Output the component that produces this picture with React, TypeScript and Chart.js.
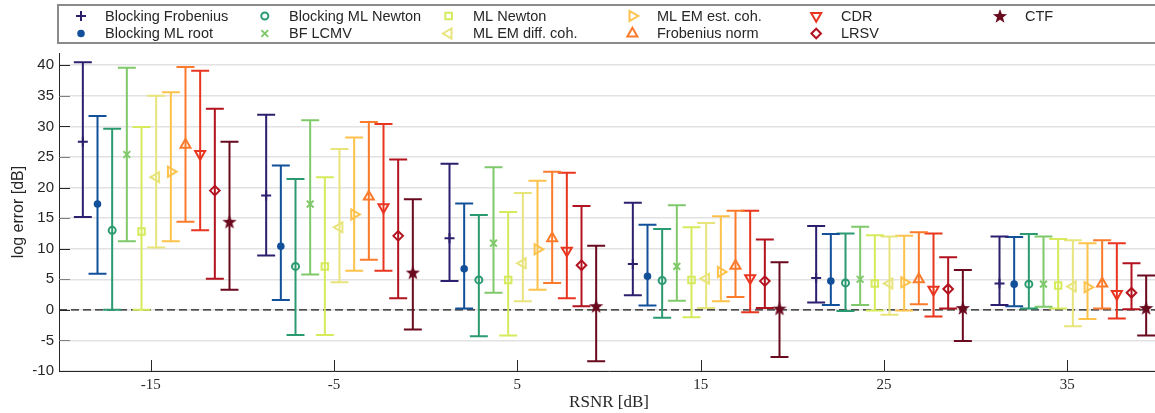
import React, { useEffect, useRef } from 'react';
import { Chart, registerables } from 'chart.js';
import { drawPoint } from 'chart.js/helpers';

Chart.register(...registerables);

// ---------------- data ----------------
const RSNR_GROUPS = [-15, -5, 5, 15, 25, 35];
const X_TICK_VALUES = [-15, -5, 5, 15, 25, 35];
const Y_TICK_VALUES = [-10, -5, 0, 5, 10, 15, 20, 25, 30, 35, 40];

const METHOD_NAMES = [
  'Blocking Frobenius',
  'Blocking ML root',
  'Blocking ML Newton',
  'BF LCMV',
  'ML Newton',
  'ML EM diff. coh.',
  'ML EM est. coh.',
  'Frobenius norm',
  'CDR',
  'LRSV',
  'CTF',
];

const METHOD_COLORS = [
  '#2d1f6e',
  '#13509a',
  '#2b9a70',
  '#80c96b',
  '#d6ea5c',
  '#e8e47c',
  '#fdc24c',
  '#fb7b2c',
  '#e9351f',
  '#b3121f',
  '#6a0a1f',
];

// mean log error [dB], one row per method, one column per RSNR group
const MEAN_VALUES = [
  [27.5, 18.7, 11.7, 7.5, 5.2, 4.3],
  [17.3, 10.4, 6.7, 5.5, 4.7, 4.2],
  [13.0, 7.1, 4.9, 4.8, 4.4, 4.2],
  [25.4, 17.3, 10.9, 7.1, 5.0, 4.2],
  [12.8, 7.1, 4.9, 4.9, 4.3, 4.0],
  [21.7, 13.5, 7.6, 5.1, 4.3, 3.8],
  [22.6, 15.6, 9.9, 6.2, 4.5, 3.7],
  [27.0, 18.5, 11.7, 7.2, 5.0, 4.3],
  [25.5, 16.8, 9.7, 5.2, 3.3, 2.6],
  [19.5, 12.1, 7.3, 4.7, 3.4, 2.8],
  [14.4, 6.1, 0.6, 0.2, 0.3, 0.3],
];

const LOWER_VALUES = [
  [15.2, 8.9, 4.7, 2.4, 1.2, 0.8],
  [5.9, 1.6, 0.2, 0.7, 0.8, 0.6],
  [0.0, -4.1, -4.3, -1.3, -0.2, 0.2],
  [11.2, 5.8, 2.8, 1.5, 0.8, 0.5],
  [0.0, -4.1, -4.2, -1.2, -0.1, 0.2],
  [10.2, 4.5, 1.4, 0.3, -0.8, -2.7],
  [11.2, 6.4, 3.3, 1.4, -0.1, -1.5],
  [14.4, 8.2, 4.4, 2.1, 0.9, 0.2],
  [13.0, 6.4, 1.9, -0.4, -1.1, -1.4],
  [5.1, 1.9, 0.6, 0.3, 0.2, 0.1],
  [3.3, -3.2, -8.4, -7.7, -5.1, -4.2],
];

const UPPER_VALUES = [
  [40.5, 31.9, 23.9, 17.5, 13.7, 12.0],
  [31.7, 23.6, 17.4, 13.9, 12.4, 11.9],
  [29.6, 21.4, 15.5, 13.2, 12.5, 12.4],
  [39.6, 31.0, 23.3, 17.1, 13.6, 12.0],
  [29.9, 21.7, 16.0, 13.5, 12.2, 11.6],
  [35.0, 26.3, 19.1, 14.2, 12.0, 11.4],
  [35.6, 28.2, 21.1, 15.3, 12.1, 10.9],
  [39.7, 30.7, 22.6, 16.2, 12.7, 11.4],
  [39.1, 30.4, 22.4, 16.2, 12.5, 10.9],
  [32.9, 24.6, 17.0, 11.5, 8.6, 7.6],
  [27.5, 18.1, 10.5, 7.8, 6.5, 5.6],
];

// ---------------- layout constants ----------------
const OFFSET_START = -3.7;
const OFFSET_STEP = 0.8;
const CAP_HALF = 0.49;
const CANVAS_W = 1170;
const CANVAS_H = 413;

const SANS = '"Liberation Sans", Arial, Helvetica, sans-serif';
const SERIF = '"Liberation Serif", "Times New Roman", serif';
const TEXT_COLOR = '#262626';

function makeStar(color: string) {
  const c = document.createElement('canvas');
  c.width = 16;
  c.height = 16;
  const g = c.getContext('2d')!;
  g.fillStyle = color;
  g.beginPath();
  for (let k = 0; k < 10; k++) {
    const r = k % 2 === 0 ? 7.5 : 3.1;
    const a = -Math.PI / 2 + (k * Math.PI) / 5;
    const px = 8 + r * Math.cos(a);
    const py = 8.6 + r * Math.sin(a);
    if (k === 0) g.moveTo(px, py);
    else g.lineTo(px, py);
  }
  g.closePath();
  g.fill();
  return c;
}

export default function App() {
  const ref = useRef<HTMLCanvasElement>(null);

  useEffect(() => {
    const canvas = ref.current!;
    const star = makeStar(METHOD_COLORS[10]);

    const markerDefs: any[] = [
      { style: 'cross', radius: 5, rotation: 0, filled: false },
      { style: 'circle', radius: 2.8, rotation: 0, filled: true },
      { style: 'circle', radius: 3.5, rotation: 0, filled: false },
      { style: 'crossRot', radius: 4.8, rotation: 0, filled: false },
      { style: 'rect', radius: 4.6, rotation: 0, filled: false },
      { style: 'triangle', radius: 5.8, rotation: -90, filled: false },
      { style: 'triangle', radius: 5.8, rotation: 90, filled: false },
      { style: 'triangle', radius: 5.8, rotation: 0, filled: false },
      { style: 'triangle', radius: 5.8, rotation: 180, filled: false },
      { style: 'rectRot', radius: 4.8, rotation: 0, filled: false },
      { style: star, radius: 6, rotation: 0, filled: true },
    ];

    const barSets: any[] = [];
    const markerSets: any[] = [];
    METHOD_NAMES.forEach((name, mi) => {
      const color = METHOD_COLORS[mi];
      const bars: any[] = [];
      const pts: any[] = [];
      RSNR_GROUPS.forEach((g, gi) => {
        const x = g + OFFSET_START + OFFSET_STEP * mi;
        const lo = LOWER_VALUES[mi][gi];
        const hi = UPPER_VALUES[mi][gi];
        bars.push(
          { x: x - CAP_HALF, y: hi },
          { x: x + CAP_HALF, y: hi },
          { x, y: null },
          { x, y: hi },
          { x, y: lo },
          { x, y: null },
          { x: x - CAP_HALF, y: lo },
          { x: x + CAP_HALF, y: lo },
          { x, y: null }
        );
        pts.push({ x, y: MEAN_VALUES[mi][gi] });
      });
      barSets.push({
        type: 'scatter',
        label: name + ' range',
        data: bars,
        showLine: true,
        spanGaps: false,
        borderColor: color,
        borderWidth: 2,
        borderCapStyle: 'butt',
        pointRadius: 0,
        pointHoverRadius: 0,
        tension: 0,
        fill: false,
        order: 2,
      });
      const m = markerDefs[mi];
      markerSets.push({
        type: 'scatter',
        label: name,
        data: pts,
        showLine: false,
        pointStyle: m.style,
        pointRadius: m.radius,
        pointHoverRadius: m.radius,
        pointRotation: m.rotation,
        borderColor: color,
        backgroundColor: m.filled ? color : 'rgba(0,0,0,0)',
        borderWidth: 2,
        pointBorderWidth: 2,
        order: 1,
      });
    });

    const decor = {
      id: 'decor',
      beforeDatasetsDraw(chart: any) {
        const { ctx, chartArea } = chart;
        const yS = chart.scales.y;
        const y0 = yS.getPixelForValue(0);
        ctx.save();
        ctx.strokeStyle = '#1a1a1a';
        ctx.lineWidth = 1.2;
        ctx.setLineDash([8, 4]);
        ctx.beginPath();
        ctx.moveTo(chartArea.left, y0);
        ctx.lineTo(chartArea.right, y0);
        ctx.stroke();
        ctx.restore();
      },
      afterDatasetsDraw(chart: any) {
        const { ctx, chartArea } = chart;
        const yS = chart.scales.y;
        const xS = chart.scales.x;
        ctx.save();
        ctx.lineWidth = 1;
        Y_TICK_VALUES.forEach((v) => {
          const y = Math.round(yS.getPixelForValue(v)) + 0.5;
          ctx.strokeStyle = v % 10 === 0 ? '#262626' : '#808080';
          ctx.beginPath();
          ctx.moveTo(chartArea.left, y);
          ctx.lineTo(chartArea.left + 11, y);
          ctx.stroke();
        });
        ctx.strokeStyle = '#262626';
        X_TICK_VALUES.forEach((v) => {
          const x = Math.round(xS.getPixelForValue(v)) + 0.5;
          ctx.beginPath();
          ctx.moveTo(x, chartArea.bottom);
          ctx.lineTo(x, chartArea.bottom - 11);
          ctx.stroke();
        });
        ctx.restore();
      },
      afterDraw(chart: any) {
        const { ctx } = chart;
        ctx.save();
        ctx.fillStyle = '#ffffff';
        ctx.fillRect(58, 5, 1130, 38);
        ctx.strokeStyle = '#8a8a8a';
        ctx.lineWidth = 2;
        ctx.strokeRect(58, 5, 1130, 38);
        METHOD_NAMES.forEach((name, mi) => {
          const col = Math.floor(mi / 2);
          const row = mi % 2;
          const mx = 81 + col * 183.8;
          const my = row === 0 ? 16 : 33.5;
          const m = markerDefs[mi];
          ctx.save();
          ctx.strokeStyle = METHOD_COLORS[mi];
          ctx.fillStyle = m.filled ? METHOD_COLORS[mi] : 'rgba(0,0,0,0)';
          ctx.lineWidth = 2;
          drawPoint(ctx, { pointStyle: m.style, radius: m.radius, rotation: m.rotation, borderWidth: 2 } as any, mx, my);
          ctx.restore();
          ctx.fillStyle = TEXT_COLOR;
          ctx.font = `14.5px ${SANS}`;
          ctx.textAlign = 'left';
          ctx.textBaseline = 'middle';
          ctx.fillText(name, 105 + col * 184, my + 0.5);
        });
        ctx.restore();
      },
    };

    const chart = new Chart(canvas, {
      type: 'scatter',
      data: { datasets: [...markerSets, ...barSets] },
      options: {
        responsive: false,
        animation: false,
        events: [],
        devicePixelRatio: 1,
        layout: { padding: { left: 0, right: CANVAS_W - 1159, top: 53, bottom: 0 } },
        plugins: {
          legend: { display: false },
          tooltip: { enabled: false },
        },
        scales: {
          x: {
            type: 'linear',
            min: -20,
            max: 40,
            afterBuildTicks: (scale: any) => {
              scale.ticks = X_TICK_VALUES.map((v) => ({ value: v }));
            },
            afterFit: (scale: any) => {
              scale.height = CANVAS_H - 371;
            },
            grid: { display: false, drawTicks: false },
            border: { display: true, color: TEXT_COLOR, width: 1 },
            ticks: {
              font: { family: SERIF, size: 15 },
              color: TEXT_COLOR,
              padding: 5,
              maxRotation: 0,
              autoSkip: false,
            },
            title: {
              display: true,
              text: 'RSNR [dB]',
              font: { family: SERIF, size: 17 },
              color: TEXT_COLOR,
              padding: { top: 0, bottom: 0 },
            },
          },
          y: {
            type: 'linear',
            min: -10,
            max: 42,
            afterBuildTicks: (scale: any) => {
              scale.ticks = Y_TICK_VALUES.map((v) => ({ value: v }));
            },
            afterFit: (scale: any) => {
              scale.width = 59;
            },
            grid: { color: '#e2e2e2', lineWidth: 1.5, drawTicks: false },
            border: { display: true, color: TEXT_COLOR, width: 1 },
            ticks: {
              font: { family: SANS, size: 15 },
              color: TEXT_COLOR,
              padding: 5,
              autoSkip: false,
            },
            title: {
              display: true,
              text: 'log error [dB]',
              font: { family: SANS, size: 16 },
              color: TEXT_COLOR,
              padding: { top: 9, bottom: 0 },
            },
          },
        },
      } as any,
      plugins: [decor],
    });

    return () => chart.destroy();
  }, []);

  return (
    <div
      style={{
        position: 'fixed',
        left: 0,
        top: 0,
        width: 1155,
        height: CANVAS_H,
        overflow: 'hidden',
        background: '#fff',
      }}
    >
      <canvas ref={ref} width={CANVAS_W} height={CANVAS_H} style={{ display: 'block' }} />
    </div>
  );
}
